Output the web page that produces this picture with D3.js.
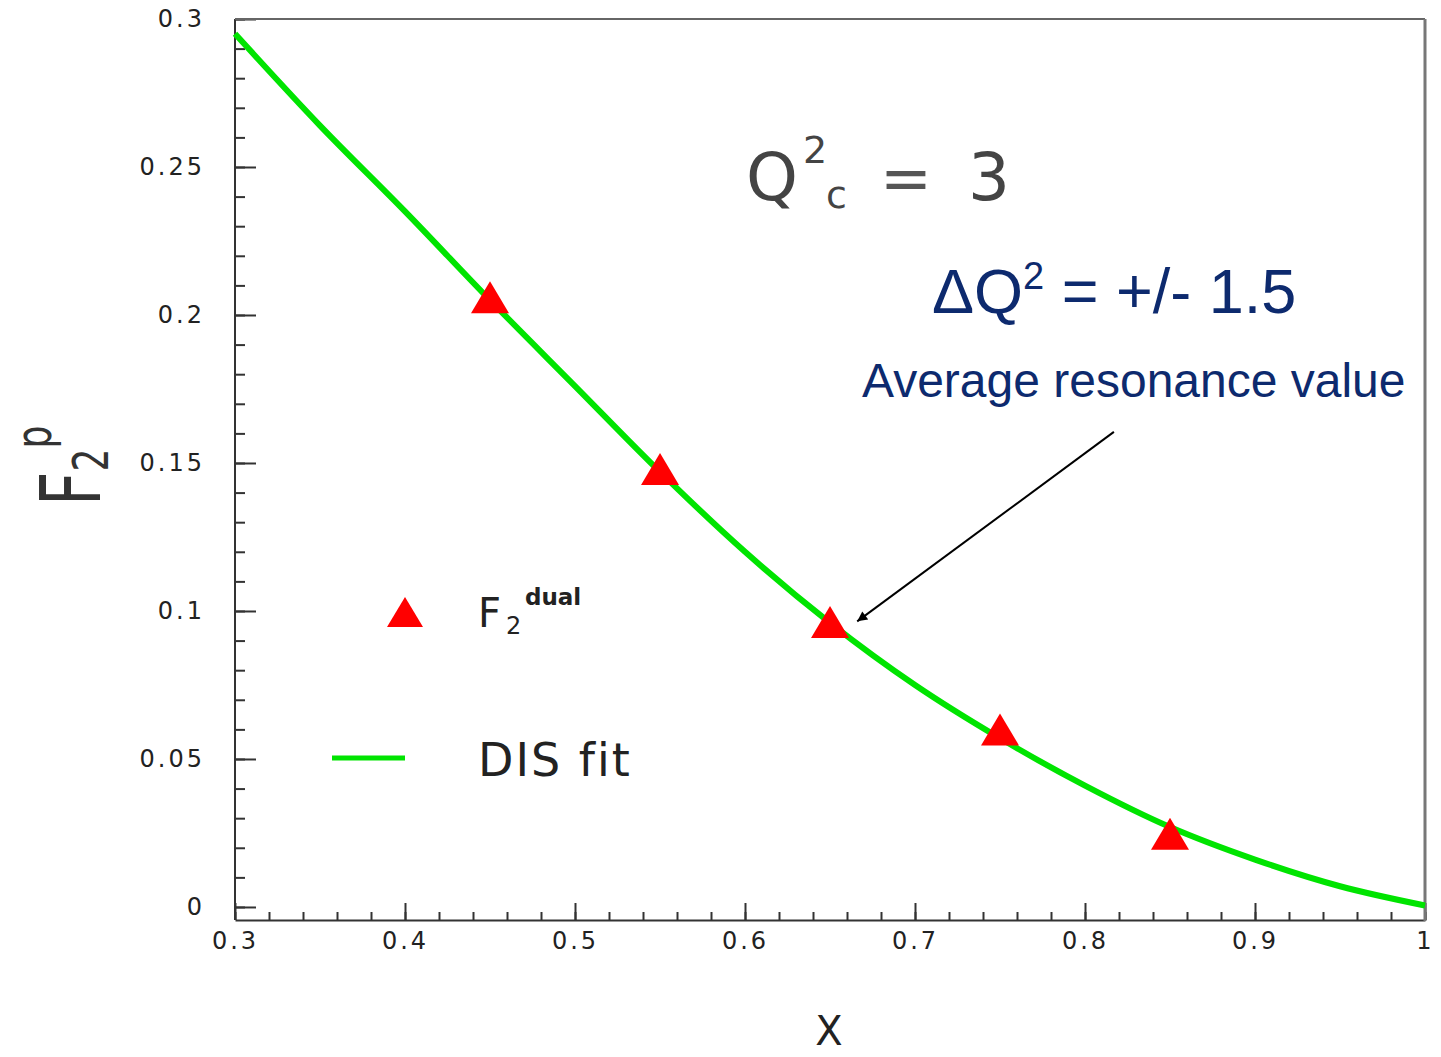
<!DOCTYPE html>
<html>
<head>
<meta charset="utf-8">
<script src="https://cdn.jsdelivr.net/npm/d3@7"></script>
<style>
  body { margin: 0; background: #fff; }
  svg { display: block; }
  .tick text { font-family: "DejaVu Sans", sans-serif; font-size: 24px; fill: #222; letter-spacing: 3px; }
  .axis line { stroke: #333; stroke-width: 2; }
  .axis path { stroke: #333; stroke-width: 2; }
</style>
</head>
<body>
<script>
// DIS fit curve
var fitX = [0.30, 0.35, 0.40, 0.45, 0.50, 0.55, 0.60, 0.65, 0.70, 0.75, 0.80, 0.85, 0.90, 0.95, 1.00];
var fitY = [0.295, 0.264, 0.235, 0.205, 0.176, 0.147, 0.120, 0.096, 0.075, 0.057, 0.041, 0.027, 0.016, 0.007, 0.0005];
// F2 dual points
var dualX = [0.45, 0.55, 0.65, 0.75, 0.85];
var dualY = [0.206, 0.148, 0.0963, 0.060, 0.0247];
// ticks
var xMajor = [0.3, 0.4, 0.5, 0.6, 0.7, 0.8, 0.9, 1.0];
var xLabels = ['0.3', '0.4', '0.5', '0.6', '0.7', '0.8', '0.9', '1'];
var yMajor = [0, 0.05, 0.1, 0.15, 0.2, 0.25, 0.3];
var yLabels = ['0', '0.05', '0.1', '0.15', '0.2', '0.25', '0.3'];

var xMinor = [];
for (var i = 0; i <= 35; i++) { xMinor.push(0.3 + i * 0.02); }
var yMinor = [];
for (var j = 0; j <= 30; j++) { yMinor.push(j * 0.01); }

var svg = d3.select('body').append('svg').attr('width', 1441).attr('height', 1057);

var x = d3.scaleLinear().domain([0.3, 1.0]).range([235, 1425]);
var y = d3.scaleLinear().domain([-0.0044, 0.3]).range([920, 19]);

// minor ticks
svg.append('g').attr('class', 'axis').attr('transform', 'translate(0,920)')
  .call(d3.axisBottom(x).tickValues(xMinor).tickSize(-8).tickFormat(''))
  .select('.domain').remove();
svg.append('g').attr('class', 'axis').attr('transform', 'translate(235,0)')
  .call(d3.axisLeft(y).tickValues(yMinor).tickSize(-10).tickFormat(''))
  .select('.domain').remove();

// major ticks
var xAxis = d3.axisBottom(x).tickValues(xMajor).tickSizeInner(-17).tickSizeOuter(0).tickPadding(12)
  .tickFormat(function (d, i) { return xLabels[i]; });
svg.append('g').attr('class', 'axis').attr('transform', 'translate(0,920)').call(xAxis);

var yAxis = d3.axisLeft(y).tickValues(yMajor).tickSizeInner(-21).tickSizeOuter(0).tickPadding(30)
  .tickFormat(function (d, i) { return yLabels[i]; });
var gy = svg.append('g').attr('class', 'axis').attr('transform', 'translate(235,0)').call(yAxis);
gy.select('.domain').attr('d', 'M0,' + y(0.3) + 'V920');

// frame top and right
svg.append('line').attr('x1', x(0.3)).attr('x2', x(1)).attr('y1', y(0.3)).attr('y2', y(0.3))
  .attr('stroke', '#666').attr('stroke-width', 2);
svg.append('line').attr('x1', x(1)).attr('x2', x(1)).attr('y1', y(0.3)).attr('y2', 921)
  .attr('stroke', '#777').attr('stroke-width', 3);

// fit curve
var line = d3.line().curve(d3.curveMonotoneX)
  .x(function (d, i) { return x(fitX[i]); })
  .y(function (d) { return y(d); });
svg.append('path').attr('d', line(fitY)).attr('fill', 'none')
  .attr('stroke', '#00e400').attr('stroke-width', 6);

function tri(w, h) {
  return 'M0,' + (-h / 2) + 'L' + (w / 2) + ',' + (h / 2) + 'L' + (-w / 2) + ',' + (h / 2) + 'Z';
}

svg.selectAll('.pt').data(dualY).enter().append('path').attr('class', 'pt')
  .attr('d', tri(38, 32))
  .attr('transform', function (d, i) { return 'translate(' + x(dualX[i]) + ',' + y(d) + ')'; })
  .attr('fill', '#ff0000');

// legend
svg.append('path').attr('d', tri(36, 30)).attr('transform', 'translate(405,612)').attr('fill', '#ff0000');
var lf = svg.append('text').attr('x', 478).attr('y', 627)
  .attr('font-family', 'DejaVu Sans, sans-serif').attr('font-size', 40).attr('fill', '#222');
lf.append('tspan').text('F');
lf.append('tspan').attr('x', 506).attr('y', 634).attr('font-size', 24).text('2');
lf.append('tspan').attr('x', 525).attr('y', 605).attr('font-size', 23).attr('font-weight', 'bold').text('dual');

svg.append('line').attr('x1', 332).attr('x2', 405).attr('y1', 758).attr('y2', 758)
  .attr('stroke', '#00e400').attr('stroke-width', 5);
svg.append('text').attr('x', 478).attr('y', 776).attr('font-family', 'DejaVu Sans, sans-serif')
  .attr('font-size', 46).attr('letter-spacing', 2).attr('fill', '#222').text('DIS fit');

// Q2c = 3
var qf = 'DejaVu Sans, sans-serif';
svg.append('text').attr('x', 746).attr('y', 200).attr('font-family', qf).attr('font-size', 66).attr('fill', '#444').text('Q');
svg.append('text').attr('x', 803).attr('y', 163).attr('font-family', qf).attr('font-size', 38).attr('fill', '#444').text('2');
svg.append('text').attr('x', 826).attr('y', 208).attr('font-family', qf).attr('font-size', 38).attr('fill', '#444').text('c');
svg.append('text').attr('x', 880).attr('y', 200).attr('font-family', qf).attr('font-size', 62).attr('fill', '#555').text('=');
svg.append('text').attr('x', 968).attr('y', 200).attr('font-family', qf).attr('font-size', 66).attr('fill', '#444').text('3');

// blue annotations
var dq = svg.append('text').attr('x', 932).attr('y', 313).attr('font-family', 'Liberation Sans, Arial, sans-serif')
  .attr('font-size', 63).attr('fill', '#0d2a6e');
dq.append('tspan').text('\u0394Q');
dq.append('tspan').attr('font-size', 38).attr('dy', -24).text('2');
dq.append('tspan').attr('dy', 24).text(' = +/- 1.5');

svg.append('text').attr('x', 862).attr('y', 397).attr('font-family', 'Liberation Sans, Arial, sans-serif')
  .attr('font-size', 48).attr('fill', '#0d2a6e').text('Average resonance value');

// arrow
svg.append('defs').append('marker').attr('id', 'ah').attr('viewBox', '0 0 10 10')
  .attr('refX', 10).attr('refY', 5).attr('markerWidth', 14).attr('markerHeight', 10)
  .attr('markerUnits', 'userSpaceOnUse').attr('orient', 'auto')
  .append('path').attr('d', 'M0,0L10,5L0,10Z').attr('fill', '#000');
svg.append('line').attr('x1', x(0.817)).attr('y1', y(0.1605)).attr('x2', x(0.666)).attr('y2', y(0.0965))
  .attr('stroke', '#000').attr('stroke-width', 2).attr('marker-end', 'url(#ah)');

// axis titles
var yl = svg.append('text').attr('transform', 'translate(100,506) rotate(-90) scale(1,1.4)')
  .attr('font-family', qf).attr('font-size', 60).attr('fill', '#333');
yl.append('tspan').text('F');
yl.append('tspan').attr('font-size', 36).attr('dy', 6).text('2');
yl.append('tspan').attr('font-size', 36).attr('dy', -41).text('p');

svg.append('text').attr('x', 829).attr('y', 1045).attr('text-anchor', 'middle')
  .attr('font-family', qf).attr('font-size', 40).attr('fill', '#222').text('X');
</script>
</body>
</html>
